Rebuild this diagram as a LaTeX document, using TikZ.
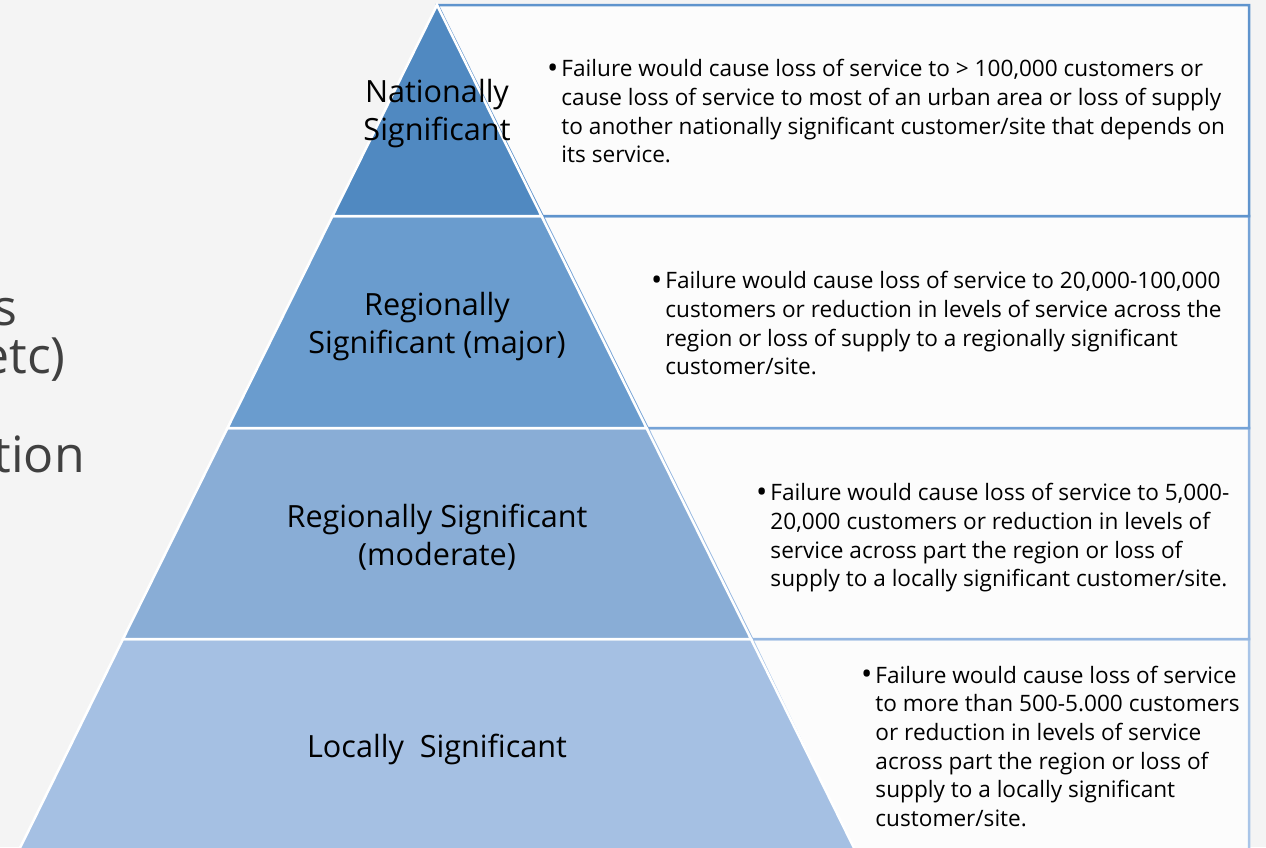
\documentclass[tikz,border=0pt]{standalone}
\usepackage{fontspec}
\setmainfont{Open Sans}
\definecolor{bgray}{HTML}{F4F4F4}
\definecolor{sidegray}{HTML}{404040}
\definecolor{boxfill}{HTML}{FCFCFC}
\definecolor{tierA}{HTML}{5089C1}
\definecolor{tierB}{HTML}{6A9CCE}
\definecolor{tierC}{HTML}{89ADD6}
\definecolor{tierD}{HTML}{A5C0E3}
\definecolor{edgeA}{HTML}{5F94CD}
\definecolor{edgeB}{HTML}{75A3D7}
\definecolor{edgeC}{HTML}{95B7E1}
\definecolor{edgeD}{HTML}{A9C5E8}
\newcommand{\bigbul}{\raisebox{-1.5pt}{\fontsize{30}{28.7}\selectfont\textbullet}}

\begin{document}
\begin{tikzpicture}[x=1pt,y=-1pt]
\tikzstyle{every node}+=[inner sep=0pt]
\tikzstyle{tier}=[draw=white,line width=2.5pt,line join=miter]
\tikzstyle{descbox}=[fill=boxfill,line width=2.5pt]
\tikzstyle{tiertext}=[align=center,font=\fontsize{30.6}{38}\selectfont]
\tikzstyle{desc}=[anchor=west,font=\fontsize{22.6}{28.7}\selectfont]
\tikzstyle{side}=[anchor=base east,text=sidegray,font=\fontsize{50}{60}\selectfont]
\useasboundingbox (0,0) rectangle (1266,847);
\fill [bgray] (0,0) rectangle (1266,847);
\node [side] (frag1) at (18,325) {s};
\node [side] (frag2) at (66,373) {etc)};
\node [side] (frag3) at (85,472) {tion};
\draw [descbox,draw=edgeD] (752,639) -- (1249,639) -- (1249,860) -- (858,860) -- cycle;
\draw [descbox,draw=edgeC] (647.5,428) -- (1249,428) -- (1249,639) -- (752,639) -- cycle;
\draw [descbox,draw=edgeB] (542.5,216) -- (1249,216) -- (1249,428) -- (647.5,428) -- cycle;
\draw [descbox,draw=edgeA] (437.5,5) -- (1249,5) -- (1249,216) -- (542.5,216) -- cycle;
\draw [tier,fill=tierD] (123,639) -- (751,639) -- (856,852) -- (18,852) -- cycle;
\draw [tier,fill=tierC] (227.5,428) -- (646.5,428) -- (751,639) -- (123,639) -- cycle;
\draw [tier,fill=tierB] (332.5,216) -- (541.5,216) -- (646.5,428) -- (227.5,428) -- cycle;
\draw [tier,fill=tierA] (437,5) -- (541.5,216) -- (332.5,216) -- cycle;
\node [tiertext] (nat) at (437,114) {Nationally\\Significant};
\node [tiertext] (regmaj) at (437,327) {Regionally\\Significant (major)};
\node [tiertext] (regmod) at (437,537) {Regionally Significant\\(moderate)};
\node [tiertext] (loc) at (437,749) {Locally\ \ Significant};
\node [desc] (natdesc) at (547,114) {\begin{tabular}{@{}l@{\hspace{3pt}}l@{}}
\bigbul & Failure would cause loss of service to > 100,000 customers or\\
 & cause loss of service to most of an urban area or loss of supply\\
 & to another nationally significant customer/site that depends on\\
 & its service.\end{tabular}};
\node [desc] (majdesc) at (651,326) {\begin{tabular}{@{}l@{\hspace{3pt}}l@{}}
\bigbul & Failure would cause loss of service to 20,000-100,000\\
 & customers or reduction in levels of service across the\\
 & region or loss of supply to a regionally significant\\
 & customer/site.\end{tabular}};
\node [desc] (moddesc) at (756,538) {\begin{tabular}{@{}l@{\hspace{3pt}}l@{}}
\bigbul & Failure would cause loss of service to 5,000-\\
 & 20,000 customers or reduction in levels of\\
 & service across part the region or loss of\\
 & supply to a locally significant customer/site.\end{tabular}};
\node [desc] (locdesc) at (861,749) {\begin{tabular}{@{}l@{\hspace{3pt}}l@{}}
\bigbul & Failure would cause loss of service\\
 & to more than 500-5.000 customers\\
 & or reduction in levels of service\\
 & across part the region or loss of\\
 & supply to a locally significant\\
 & customer/site.\end{tabular}};
\end{tikzpicture}
\end{document}
